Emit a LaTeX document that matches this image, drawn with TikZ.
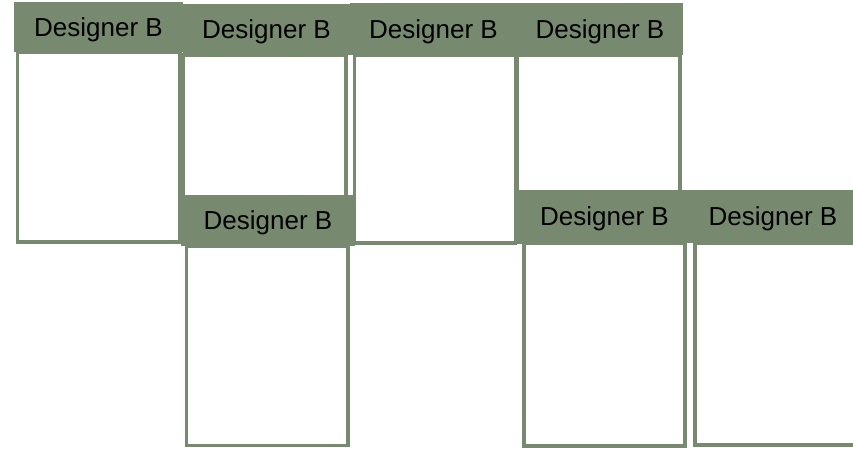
\documentclass[tikz,border=0pt]{standalone}
\usepackage{fontspec}
\setmainfont{Liberation Sans}
\definecolor{sage}{HTML}{778A6F}
\begin{document}
\begin{tikzpicture}[x=1pt,y=-1pt,
	hdr/.style={fill=sage,draw=none,inner sep=0pt,outer sep=0pt,text depth=0pt,anchor=north west,font=\fontsize{26}{30}\selectfont},
	card/.style={draw=sage,fill=white,line width=3.6pt,inner sep=0pt,outer sep=0pt,anchor=north west}]
			\useasboundingbox (0,0) rectangle (853,449);
			\node[card,minimum width=162.5pt,minimum height=190pt] (bodyA) at (17.5,52) {};
			\node[hdr,minimum width=169pt,minimum height=50pt] (headA) at (14,2) {Designer B};
			\node[card,minimum width=162.5pt,minimum height=187pt] (bodyB) at (183.5,55) {};
			\node[hdr,minimum width=167pt,minimum height=51pt] (headB) at (183,4) {Designer B};
			\node[card,minimum width=161pt,minimum height=188pt] (bodyC) at (354.5,55) {};
			\node[hdr,minimum width=167pt,minimum height=52pt] (headC) at (350,3) {Designer B};
			\node[card,minimum width=163pt,minimum height=187pt] (bodyD) at (517,55) {};
			\node[hdr,minimum width=166pt,minimum height=52pt] (headD) at (517,3) {Designer B};
			\node[card,minimum width=161.5pt,minimum height=199.5pt] (bodyE) at (186.5,246) {};
			\node[hdr,minimum width=174pt,minimum height=51pt] (headE) at (181,195) {Designer B};
			\node[card,minimum width=161pt,minimum height=203pt] (bodyF) at (524,243) {};
			\node[hdr,minimum width=171pt,minimum height=53pt] (headF) at (519,190) {Designer B};
			\node[card,minimum width=160pt,minimum height=202pt] (bodyG) at (695,243) {};
			\node[hdr,minimum width=166pt,minimum height=53pt] (headG) at (690,190) {Designer B};
		\end{tikzpicture}
\end{document}
